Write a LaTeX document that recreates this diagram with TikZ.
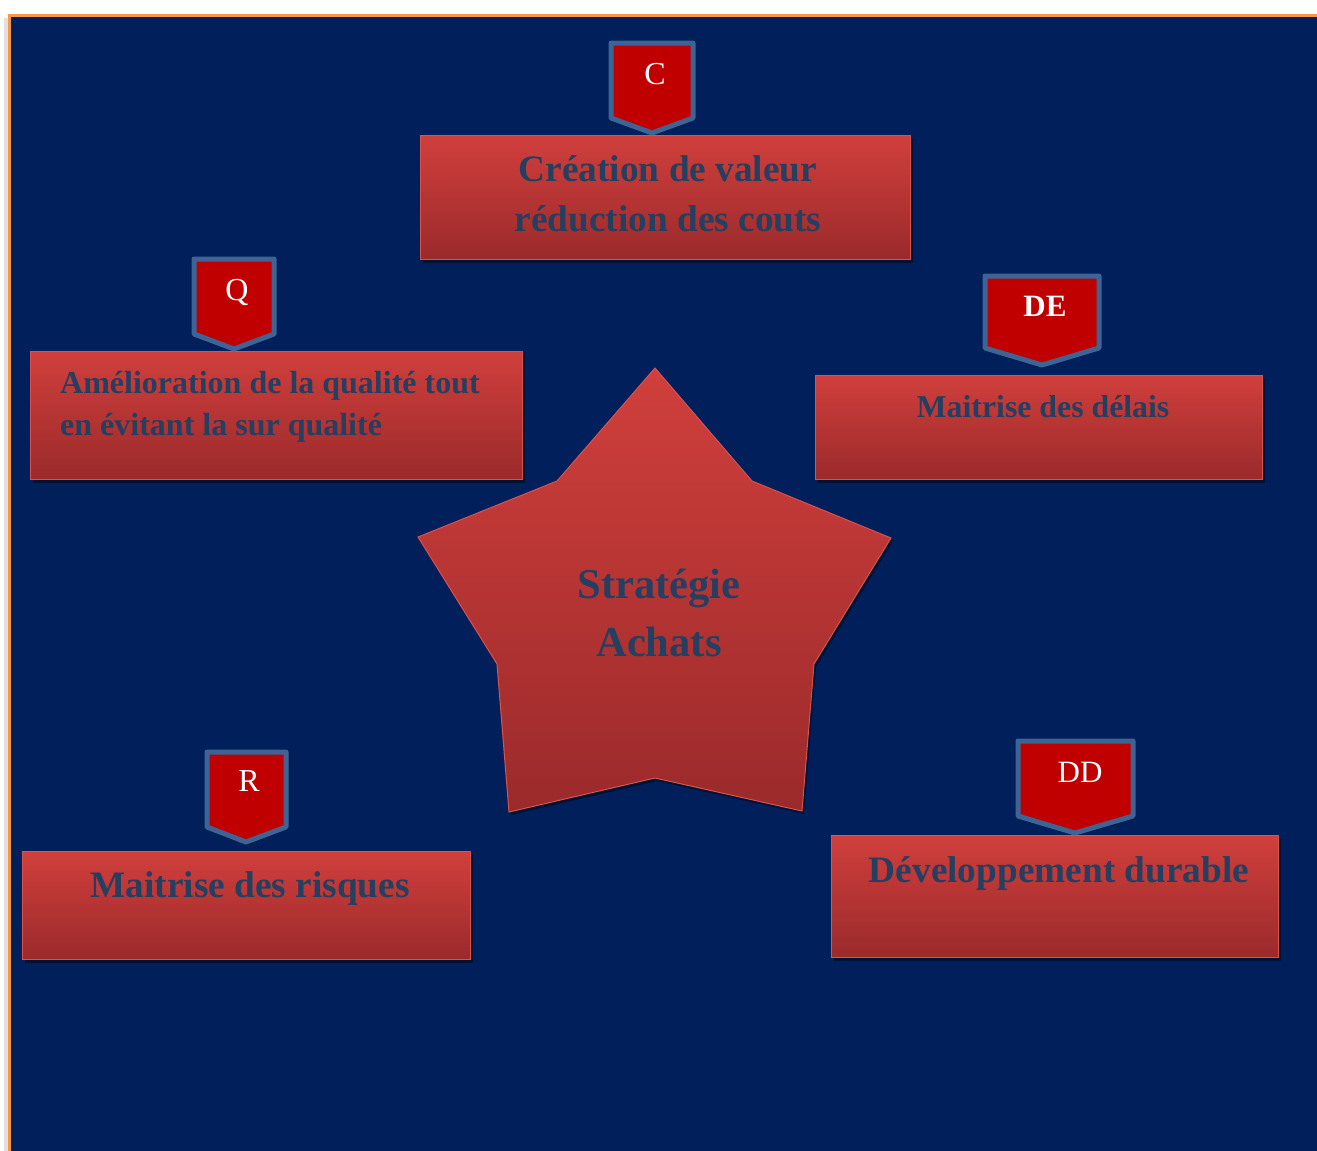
\documentclass[tikz,border=0pt]{standalone}
\usepackage{fontspec}
\setmainfont{Liberation Serif}
\usetikzlibrary{shadows}
\definecolor{bg}{HTML}{001F5B}
\definecolor{framecol}{HTML}{F79646}
\definecolor{boxtop}{HTML}{D03F3C}
\definecolor{boxbot}{HTML}{9B2A2B}
\definecolor{txt}{HTML}{243F60}
\definecolor{badgefill}{HTML}{C00000}
\definecolor{badgeline}{HTML}{3C6596}
\definecolor{edgecol}{HTML}{D65350}
\begin{document}
\begin{tikzpicture}[x=1pt,y=-1pt,
  redbox/.style={rectangle, inner sep=0pt, anchor=north west, top color=boxtop, bottom color=boxbot,
    draw=edgecol, line width=1pt, drop shadow={opacity=0.45, fill=black, shadow xshift=2pt, shadow yshift=-3pt}},
  boxtext/.style={text=txt, anchor=base, inner sep=0pt},
  badge/.style={fill=badgefill, draw=badgeline, line width=5pt, line join=round},
  badgetext/.style={text=white, anchor=base, inner sep=0pt}]
\useasboundingbox (0,0) rectangle (1317,1151);
\fill[black!12] (4,18) rectangle (8,1151);
\fill[bg] (8,14) rectangle (1317,1151);
\draw[framecol, line width=3pt] (9.5,1151) -- (9.5,15.5) -- (1317,15.5);

% boxes
\node[redbox, minimum width=490pt, minimum height=124pt] (boxC) at (420,135) {};
\node[redbox, minimum width=492pt, minimum height=128pt] (boxQ) at (30,351) {};
\node[redbox, minimum width=447pt, minimum height=104pt] (boxDE) at (815,375) {};
\node[redbox, minimum width=448pt, minimum height=108pt] (boxR) at (22,851) {};
\node[redbox, minimum width=447pt, minimum height=122pt] (boxDD) at (831,835) {};

% star
\path[top color=boxtop, bottom color=boxbot, draw=edgecol, line width=1pt,
  drop shadow={opacity=0.45, fill=black, shadow xshift=2pt, shadow yshift=-3pt}]
  (655,368) -- (752,481) -- (891,538) -- (814,664) -- (802,811) -- (655,778)
  -- (509,812) -- (497,664) -- (418,537) -- (557,481) -- cycle;

% texts
\node[boxtext, font=\bfseries\fontsize{37.3}{37}\selectfont] (tC1) at (668,181) {Création de valeur};
\node[boxtext, font=\bfseries\fontsize{37.3}{37}\selectfont] (tC2) at (668,231) {réduction des couts};
\node[boxtext, anchor=base west, font=\bfseries\fontsize{32}{32}\selectfont] (tQ1) at (60,393) {Amélioration de la qualité tout};
\node[boxtext, anchor=base west, font=\bfseries\fontsize{32}{32}\selectfont] (tQ2) at (60,435) {en évitant la sur qualité};
\node[boxtext, font=\bfseries\fontsize{31.8}{31.8}\selectfont] (tDE) at (1043,417) {Maitrise des délais};
\node[boxtext, font=\bfseries\fontsize{37.3}{37}\selectfont] (tR) at (250,897) {Maitrise des risques};
\node[boxtext, font=\bfseries\fontsize{37.3}{37}\selectfont] (tDD) at (1059,882) {Développement durable};
\node[boxtext, font=\bfseries\fontsize{42.5}{42}\selectfont] (tS1) at (659,598) {Stratégie};
\node[boxtext, font=\bfseries\fontsize{42.5}{42}\selectfont] (tS2) at (659,656) {Achats};

% badges
\draw[badge] (611,43) -- (693,43) -- (693,118) -- (652,133) -- (611,118) -- cycle;
\draw[badge] (194,259) -- (274,259) -- (274,334) -- (234,349) -- (194,334) -- cycle;
\draw[badge] (985,276) -- (1099,276) -- (1099,348) -- (1042,365) -- (985,348) -- cycle;
\draw[badge] (207,752) -- (286,752) -- (286,827) -- (246,842) -- (207,827) -- cycle;
\draw[badge] (1018,741) -- (1133,741) -- (1133,816) -- (1075,833) -- (1018,816) -- cycle;

\node[badgetext, font=\fontsize{32}{32}\selectfont] (bC) at (655,84) {C};
\node[badgetext, font=\fontsize{32}{32}\selectfont] (bQ) at (237,300) {Q};
\node[badgetext, font=\bfseries\fontsize{31}{31}\selectfont] (bDE) at (1045,316) {DE};
\node[badgetext, font=\fontsize{32}{32}\selectfont] (bR) at (249,791) {R};
\node[badgetext, font=\fontsize{31}{31}\selectfont] (bDD) at (1080,782) {DD};
\end{tikzpicture}
\end{document}
